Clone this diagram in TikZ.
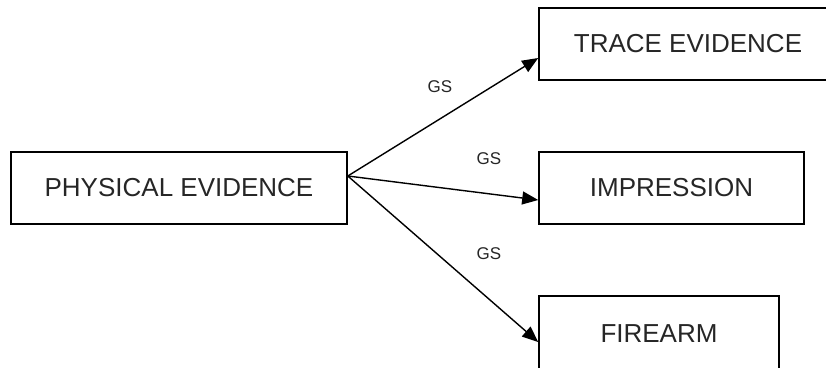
\documentclass[tikz,border=0pt]{standalone}
\usepackage{fontspec}
\setmainfont{Liberation Sans}
\usetikzlibrary{arrows.meta,calc}
\begin{document}
\begin{tikzpicture}[x=1pt,y=-1pt,
  box/.style={draw=black,line width=1.6pt,inner sep=0pt,minimum height=72pt,font=\fontsize{26}{28}\selectfont,text=black!85},
  conn/.style={line width=1.4pt,-{Triangle[length=16pt,width=13pt]}},
  lbl/.style={font=\fontsize{17}{19}\selectfont,text=black!85,inner sep=0pt}]
\useasboundingbox (0,0) rectangle (826,367);
\begin{scope}
\clip (0,0) rectangle (826,367);
\node[box,minimum width=336pt] (phys) at (179,188) {PHYSICAL EVIDENCE};
\node[box,minimum width=310pt] (trace) at (694,44) {\hspace*{-12pt}TRACE EVIDENCE};
\node[box,minimum width=265pt] (imp) at (671.5,188) {IMPRESSION};
\node[box,minimum width=240pt,minimum height=80pt] (fire) at (659,336) {\raisebox{4pt}{FIREARM}};
\coordinate (s) at ($(phys.east)+(0,-12)$);
\draw[conn] (s) -- ($(trace.west)+(0,14)$);
\draw[conn] (s) -- ($(imp.west)+(0,12)$);
\draw[conn] (s) -- ($(fire.west)+(0,6)$);
\node[lbl] (g1) at (440,87) {GS};
\node[lbl] (g2) at (489,159) {GS};
\node[lbl] (g3) at (489,254) {GS};
\end{scope}
\end{tikzpicture}
\end{document}
